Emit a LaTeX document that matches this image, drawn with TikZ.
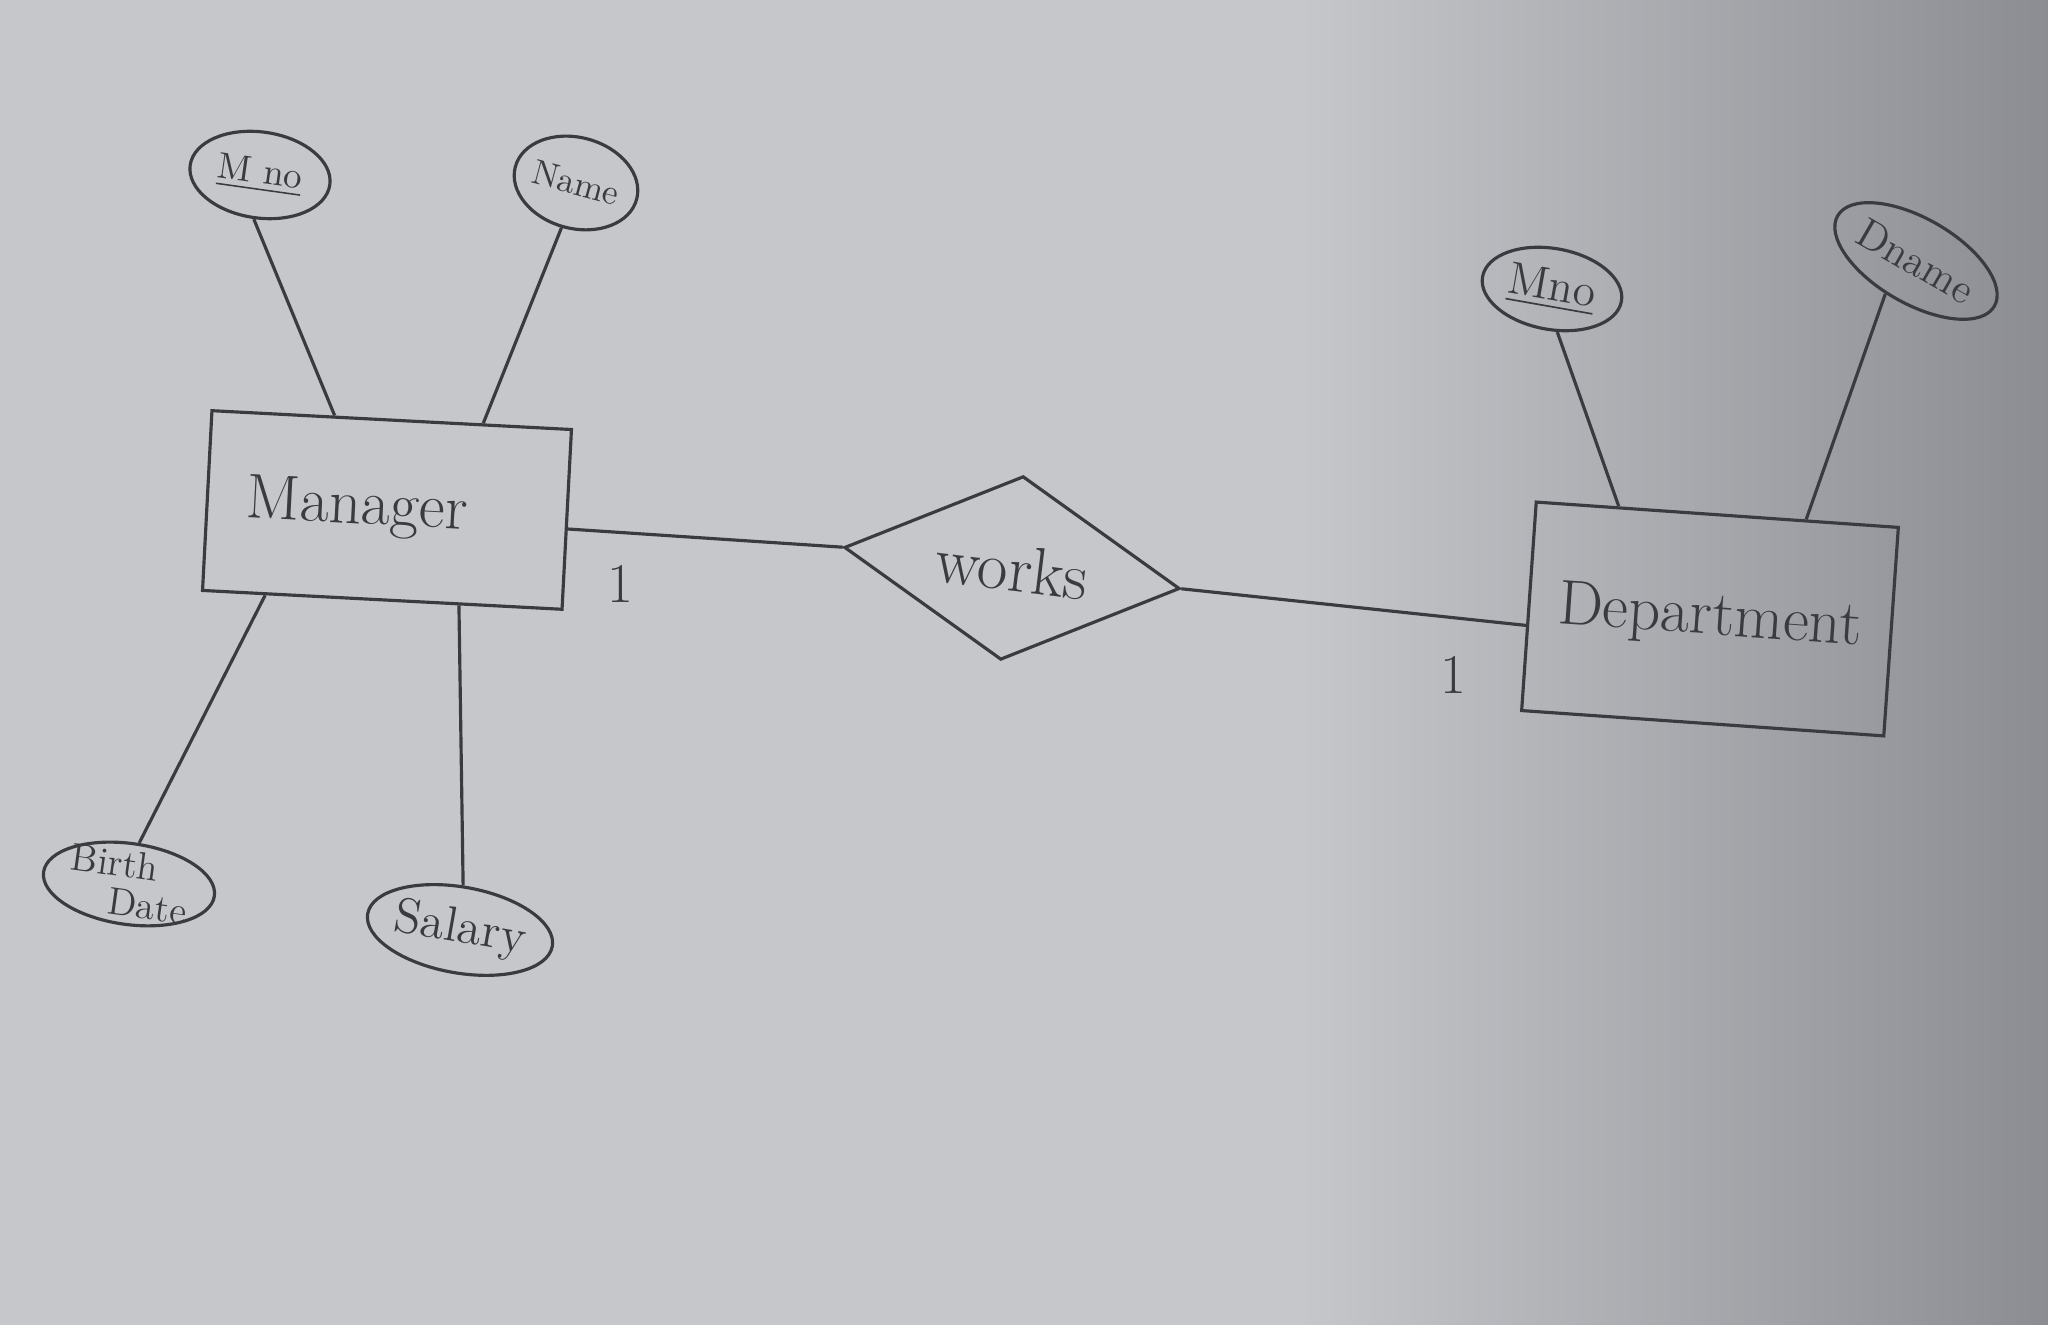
\documentclass[tikz,border=0pt]{standalone}
\usepackage{amsmath}
\usepackage{tikz}
\usetikzlibrary{arrows,shapes,calc}
\usetikzlibrary{positioning}
\definecolor{pencil}{RGB}{58,58,64}
\definecolor{paper}{RGB}{198,199,203}
\definecolor{paperdark}{RGB}{140,141,146}
\tikzstyle{entity}=[draw=pencil, line width=0.9pt, rectangle, minimum width=3.6cm, minimum height=1.8cm, text=pencil, font=\fontsize{18}{21}\selectfont]
\tikzstyle{rel}=[draw=pencil, line width=0.9pt, diamond, aspect=2, minimum width=3.38cm, minimum height=1.85cm, text=pencil, font=\fontsize{19}{22}\selectfont]
\tikzstyle{attr}=[draw=pencil, line width=0.9pt, ellipse, inner sep=0pt, text=pencil, font=\fontsize{12}{13}\selectfont]
\tikzstyle{link}=[draw=pencil, line width=0.9pt]
\tikzstyle{card}=[text=pencil, font=\fontsize{16}{19}\selectfont]

\begin{document}
\begin{tikzpicture}
\useasboundingbox (0,0) rectangle (20.48,13.25);
\fill[paper] (0,0) rectangle (20.48,13.25);
\shade[left color=paper, right color=paperdark] (13,0) rectangle (20.48,13.25);

% entities and relationship
\node [entity, rotate=-3] (mgr) at (3.87,8.15) {\raisebox{-3pt}{Manager}\hspace{0.6cm}\mbox{}};
\node [rel, rotate=-7] (works) at (10.12,7.57) {works};
\node [entity, rotate=-4, minimum width=3.63cm, minimum height=2.09cm] (dept) at (17.10,7.06) {Department};

% attributes of Manager
\node [attr, rotate=-8, minimum width=1.41cm, minimum height=0.86cm, font=\fontsize{10.5}{12}\selectfont] (mno) at (2.60,11.50) {\underline{M no}};
\node [attr, rotate=-15, minimum width=1.25cm, minimum height=0.91cm, font=\fontsize{10}{12}\selectfont] (name) at (5.76,11.42) {Name};
\node [attr, rotate=-8, minimum width=1.72cm, minimum height=0.81cm, inner ysep=-7pt, align=left, font=\fontsize{11}{11}\selectfont] (bdate) at (1.29,4.41) {Birth\\\hspace*{1.1em}Date};
\node [attr, rotate=-10, minimum width=1.80cm, minimum height=0.86cm, font=\fontsize{14}{15}\selectfont] (sal) at (4.60,3.95) {Salary};

% attributes of Department
\node [attr, rotate=-10, minimum width=1.41cm, minimum height=0.81cm, font=\fontsize{13}{14}\selectfont] (mno2) at (15.52,10.36) {\underline{Mno}};
\node [attr, rotate=-30, minimum width=1.55cm, minimum height=0.85cm] (dname) at (19.16,10.64) {Dname};

\draw[link] (mno.-90) -- (mgr.122);
\draw[link] (name.-93) -- (mgr.45);
\draw[link] (bdate.84) -- (mgr.-142);
\draw[link] (sal.96) -- (mgr.-50);
\draw[link] (mgr.-3) -- node[card, pos=0.19, below=0.2cm] (c1) {1} (works.west);
\draw[link] (works.east) -- node[card, pos=0.79, below=0.25cm] (c2) {1} (dept.186);
\draw[link] (mno2.-73) -- (dept.133);
\draw[link] (dname.-103) -- (dept.50);
\end{tikzpicture}
\end{document}
